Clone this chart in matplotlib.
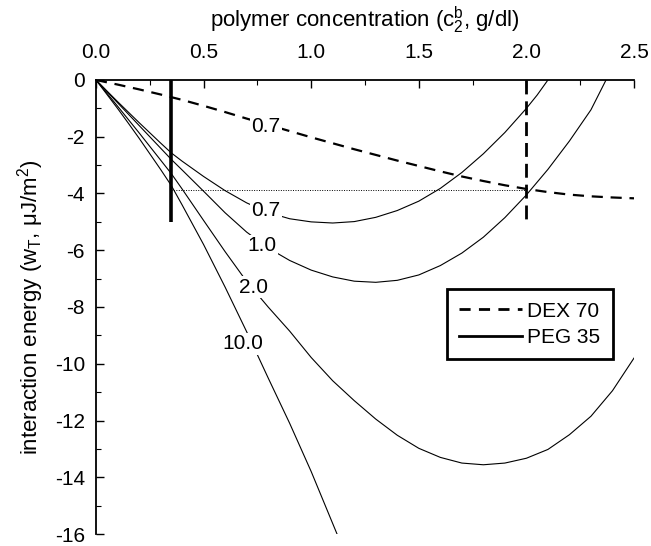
import numpy as np
import matplotlib
matplotlib.use("Agg")
import matplotlib.pyplot as plt
from matplotlib.lines import Line2D
from matplotlib.ticker import MultipleLocator, FuncFormatter

# depletion interaction energy vs bulk polymer concentration

# DEX 70 (dashed)
dex_x = [0, 0.1, 0.2, 0.3, 0.4, 0.5, 0.6, 0.7, 0.8, 0.9, 1.0, 1.1, 1.2, 1.3,
         1.4, 1.5, 1.6, 1.7, 1.8, 1.9, 2.0, 2.1, 2.2, 2.3, 2.4, 2.5]
dex_y = [0, -0.16, -0.33, -0.51, -0.7, -0.91, -1.13, -1.36, -1.58, -1.8, -2.02, -2.23, -2.44, -2.64,
         -2.84, -3.03, -3.22, -3.4, -3.56, -3.71, -3.84, -3.95, -4.04, -4.1, -4.14, -4.17]

# PEG 35 curves, one per curve label
peg07_x = [0, 0.05, 0.1, 0.15, 0.2, 0.25, 0.3, 0.35, 0.4, 0.5, 0.6, 0.7, 0.8, 0.9, 1.0, 1.1,
           1.2, 1.3, 1.4, 1.5, 1.6, 1.7, 1.8, 1.9, 2.0, 2.05, 2.1]
peg07_y = [0, -0.38, -0.76, -1.13, -1.5, -1.86, -2.22, -2.57, -2.86, -3.4, -3.9, -4.33, -4.67, -4.89, -5.0, -5.04,
           -4.99, -4.84, -4.6, -4.27, -3.82, -3.26, -2.6, -1.85, -1.0, -0.53, 0.0]

peg10_x = [0, 0.05, 0.1, 0.15, 0.2, 0.25, 0.3, 0.35, 0.4, 0.5, 0.6, 0.7, 0.8, 0.9, 1.0, 1.1, 1.2,
           1.3, 1.4, 1.5, 1.6, 1.7, 1.8, 1.9, 2.0, 2.1, 2.2, 2.3, 2.37]
peg10_y = [0, -0.4, -0.8, -1.2, -1.6, -2.0, -2.4, -2.8, -3.17, -3.92, -4.68, -5.36, -5.92, -6.36, -6.7, -6.94, -7.09,
           -7.13, -7.06, -6.87, -6.54, -6.1, -5.54, -4.85, -4.05, -3.15, -2.15, -1.05, 0.0]

peg20_x = [0, 0.05, 0.1, 0.15, 0.2, 0.25, 0.3, 0.35, 0.4, 0.5, 0.6, 0.7, 0.8, 0.9, 1.0, 1.1, 1.2,
           1.3, 1.4, 1.5, 1.6, 1.7, 1.8, 1.9, 2.0, 2.1, 2.2, 2.3, 2.4, 2.5]
peg20_y = [0, -0.46, -0.92, -1.39, -1.86, -2.34, -2.82, -3.3, -3.84, -4.95, -6.05, -7.1, -8.0, -8.85, -9.78, -10.6, -11.3,
           -11.95, -12.52, -12.98, -13.3, -13.5, -13.56, -13.5, -13.33, -13.02, -12.5, -11.85, -10.95, -9.8]

peg100_x = [0, 0.05, 0.1, 0.15, 0.2, 0.25, 0.3, 0.35, 0.4, 0.5, 0.6, 0.7, 0.8, 0.9, 1.0, 1.12]
peg100_y = [0, -0.5, -1.0, -1.52, -2.05, -2.6, -3.15, -3.72, -4.4, -5.8, -7.3, -8.87, -10.5, -12.1, -13.8, -16.0]

# inline curve labels
label_text = ["0.7", "0.7", "1.0", "2.0", "10.0"]
label_x = [0.79, 0.79, 0.77, 0.73, 0.68]
label_y = [-1.63, -4.59, -5.84, -7.3, -9.29]

# reference markers
peg_cut = 0.348
dex_cut = 2.0
cut_bottom = -5.0
equal_energy = -3.88

plt.rcParams['font.family'] = ['Liberation Sans', 'DejaVu Sans']
plt.rcParams['mathtext.fontset'] = 'custom'
plt.rcParams['mathtext.rm'] = 'Liberation Sans'
plt.rcParams['mathtext.it'] = 'Liberation Sans'
plt.rcParams['axes.unicode_minus'] = False

fig = plt.figure(figsize=(6.51, 5.46), dpi=100)
ax = fig.add_axes([96 / 651, 1 - 534 / 546, (634 - 96) / 651, (534 - 80) / 546])

ax.plot(dex_x, dex_y, color='black', lw=1.6, dashes=(5, 3.5))
for xs, ys in [(peg07_x, peg07_y), (peg10_x, peg10_y), (peg20_x, peg20_y), (peg100_x, peg100_y)]:
    ax.plot(xs, ys, color='black', lw=0.8)

ax.plot([peg_cut, dex_cut], [equal_energy, equal_energy], color='black', lw=0.7, dashes=(1, 1.5))
ax.plot([peg_cut, peg_cut], [0, cut_bottom], color='black', lw=2.6, solid_capstyle='butt')
ax.plot([dex_cut, dex_cut], [0, cut_bottom], color='black', lw=2.0, dashes=(5, 2.5))

for t, x, y in zip(label_text, label_x, label_y):
    ax.text(x, y, t, ha='center', va='center', fontsize=15, zorder=5,
            bbox=dict(fc='white', ec='none', pad=1.0))

ax.set_xlim(0, 2.5)
ax.set_ylim(-16, 0)
ax.xaxis.tick_top()
ax.xaxis.set_label_position('top')
ax.xaxis.set_major_locator(MultipleLocator(0.5))
ax.xaxis.set_minor_locator(MultipleLocator(0.25))
ax.yaxis.set_major_locator(MultipleLocator(2))
ax.yaxis.set_minor_locator(MultipleLocator(1))
ax.xaxis.set_major_formatter(FuncFormatter(lambda v, p: f"{v:.1f}"))
ax.yaxis.set_major_formatter(FuncFormatter(lambda v, p: f"{int(round(v))}"))
ax.tick_params(which='major', direction='in', length=6, width=1, labelsize=15)
ax.tick_params(which='minor', direction='in', length=3.5, width=0.8)
ax.tick_params(axis='x', pad=13)
ax.tick_params(axis='y', pad=8)
for s in ['right', 'bottom']:
    ax.spines[s].set_visible(False)
for s in ['left', 'top']:
    ax.spines[s].set_linewidth(1.3)

ax.set_xlabel(r"polymer concentration (c$_2^\mathrm{b}$, g/dl)", fontsize=16, labelpad=11)
ax.set_ylabel(r"interaction energy (w$_\mathrm{T}$, μJ/m$^2$)", fontsize=16, labelpad=6)

handles = [Line2D([], [], color='black', lw=2.0, dashes=(4, 3)),
           Line2D([], [], color='black', lw=2.0)]
leg = ax.legend(handles, ["DEX 70", "PEG 35"], loc='center', bbox_to_anchor=(0.806, 0.462),
                fontsize=15, frameon=True, fancybox=False, framealpha=1,
                handlelength=3.0, handletextpad=0.25, borderpad=0.6, labelspacing=0.35)
leg.get_frame().set_edgecolor('black')
leg.get_frame().set_linewidth(2)

fig.savefig("out.png", dpi=100)
